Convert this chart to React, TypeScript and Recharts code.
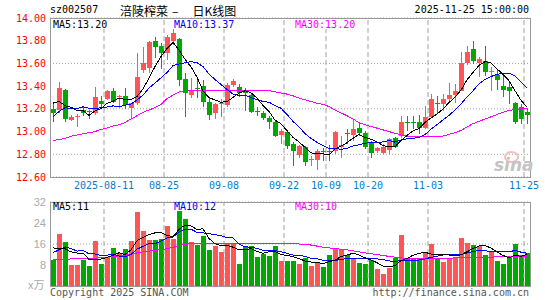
import React from "react";
import {
  ComposedChart,
  Bar,
  Line,
  XAxis,
  YAxis,
  CartesianGrid,
  ReferenceLine,
  ReferenceArea,
  Cell,
} from "recharts";

// trading days shown (80 sessions)
const dates = [
  "2025-07-29", "2025-07-30", "2025-07-31", "2025-08-01", "2025-08-04", "2025-08-05", "2025-08-06", "2025-08-07", "2025-08-08",
  "2025-08-11", "2025-08-12", "2025-08-13", "2025-08-14", "2025-08-15", "2025-08-18", "2025-08-19", "2025-08-20", "2025-08-21", "2025-08-22",
  "2025-08-25", "2025-08-26", "2025-08-27", "2025-08-28", "2025-08-29", "2025-09-01", "2025-09-02", "2025-09-03", "2025-09-04", "2025-09-05",
  "2025-09-08", "2025-09-09", "2025-09-10", "2025-09-11", "2025-09-12", "2025-09-15", "2025-09-16", "2025-09-17", "2025-09-18", "2025-09-19",
  "2025-09-22", "2025-09-23", "2025-09-24", "2025-09-25", "2025-09-26", "2025-09-29", "2025-09-30",
  "2025-10-09", "2025-10-10", "2025-10-13", "2025-10-14", "2025-10-15", "2025-10-16", "2025-10-17",
  "2025-10-20", "2025-10-21", "2025-10-22", "2025-10-23", "2025-10-24", "2025-10-27", "2025-10-28", "2025-10-29", "2025-10-30", "2025-10-31",
  "2025-11-03", "2025-11-04", "2025-11-05", "2025-11-06", "2025-11-07", "2025-11-10", "2025-11-11", "2025-11-12", "2025-11-13", "2025-11-14",
  "2025-11-17", "2025-11-18", "2025-11-19", "2025-11-20", "2025-11-21", "2025-11-24", "2025-11-25",
];

const opens = [
  13.2, 13.19, 13.37, 13.1, 13.125, 13.19, 13.18, 13.16, 13.265, 13.29,
  13.36, 13.31, 13.315, 13.21, 13.25, 13.545, 13.56, 13.795, 13.75, 13.695,
  13.8, 13.815, 13.465, 13.32, 13.385, 13.4, 13.26, 13.16, 13.25, 13.23,
  13.41, 13.39, 13.35, 13.325, 13.18, 13.16, 13.12, 13.085, 12.97, 13.0,
  12.89, 12.79, 12.865, 12.75, 12.75, 12.83, 12.83, 12.825, 12.86, 12.985,
  12.97, 13.03, 12.985, 12.905, 12.825, 12.815, 12.835, 12.94, 12.96, 13.08,
  13.08, 13.085, 13.03, 13.13, 13.255, 13.24, 13.29, 13.32, 13.36, 13.6,
  13.73, 13.605, 13.62, 13.53, 13.5, 13.4, 13.39, 13.255, 13.215, 13.175,
];
const highs = [
  13.25, 13.44, 13.375, 13.145, 13.155, 13.225, 13.19, 13.39, 13.31, 13.37,
  13.385, 13.325, 13.385, 13.255, 13.69, 13.745, 13.8, 13.83, 13.78, 13.85,
  13.9, 13.82, 13.52, 13.47, 13.47, 13.455, 13.295, 13.25, 13.29, 13.425,
  13.46, 13.42, 13.385, 13.34, 13.215, 13.18, 13.14, 13.105, 13.02, 13.006,
  12.905, 12.885, 12.875, 12.785, 12.845, 12.855, 12.88, 13.006, 12.96, 13.02,
  13.1, 13.085, 13.006, 12.92, 12.865, 12.89, 12.945, 12.955, 13.135, 13.135,
  13.135, 13.145, 13.225, 13.335, 13.31, 13.33, 13.43, 13.42, 13.7, 13.75,
  13.8, 13.66, 13.75, 13.565, 13.545, 13.49, 13.43, 13.26, 13.245, 13.21,
];
const lows = [
  13.08, 13.16, 13.08, 13.09, 13.04, 13.135, 13.11, 13.145, 13.21, 13.28,
  13.25, 13.21, 13.2, 13.12, 13.23, 13.515, 13.52, 13.645, 13.55, 13.63,
  13.76, 13.4, 13.13, 13.295, 13.295, 13.22, 13.105, 13.11, 13.13, 13.22,
  13.39, 13.3, 13.18, 13.165, 13.14, 13.105, 13.02, 12.955, 12.89, 12.845,
  12.7, 12.77, 12.7, 12.7, 12.66, 12.745, 12.745, 12.8, 12.77, 12.89,
  12.92, 12.96, 12.845, 12.765, 12.815, 12.805, 12.8, 12.855, 12.945, 13.005,
  13.02, 12.98, 13.02, 13.12, 13.165, 13.18, 13.25, 13.25, 13.355, 13.59,
  13.595, 13.48, 13.49, 13.355, 13.37, 13.3, 13.245, 13.07, 13.065, 13.065,
];
const closes = [
  13.16, 13.385, 13.11, 13.13, 13.135, 13.165, 13.175, 13.3, 13.24, 13.36,
  13.26, 13.315, 13.235, 13.25, 13.48, 13.6, 13.79, 13.745, 13.695, 13.83,
  13.87, 13.45, 13.34, 13.36, 13.38, 13.26, 13.15, 13.245, 13.255, 13.41,
  13.445, 13.34, 13.345, 13.17, 13.175, 13.12, 13.08, 12.96, 13.005, 12.875,
  12.825, 12.875, 12.73, 12.76, 12.83, 12.825, 12.82, 13.0, 12.885, 12.98,
  13.02, 12.99, 12.865, 12.81, 12.855, 12.865, 12.935, 12.865, 13.085, 13.075,
  13.075, 13.035, 13.13, 13.285, 13.25, 13.29, 13.325, 13.36, 13.6, 13.7,
  13.62, 13.635, 13.525, 13.535, 13.45, 13.37, 13.36, 13.085, 13.11, 13.145,
];
// closes of the nine sessions before the window (read back from the MA lines)
const priorCloses = [12.905, 12.79, 13.19, 13.14, 13.02, 13.305, 13.3, 13.195, 13.29];

const priceMa30 = [
  12.92, 12.93, 12.94, 12.96, 12.97, 12.98, 12.99, 13.0, 13.02, 13.03,
  13.05, 13.06, 13.08, 13.11, 13.14, 13.17, 13.19, 13.21, 13.24, 13.29,
  13.32, 13.35, 13.355, 13.36, 13.365, 13.365, 13.365, 13.365, 13.365, 13.365,
  13.365, 13.365, 13.365, 13.365, 13.365, 13.365, 13.36, 13.35, 13.34, 13.33,
  13.315, 13.295, 13.28, 13.265, 13.25, 13.24, 13.22, 13.19, 13.165, 13.14,
  13.11, 13.08, 13.06, 13.045, 13.03, 13.015, 13.0, 12.985, 12.97, 12.96,
  12.955, 12.955, 12.955, 12.955, 12.96, 12.96, 12.975, 12.99, 13.01, 13.04,
  13.07, 13.09, 13.11, 13.13, 13.15, 13.17, 13.185, 13.195, 13.2, 13.2,
];

// volume, x万手
const volumes = [
  10.0, 19.8, 16.8, 8.1, 8.1, 10.0, 7.7, 17.2, 8.3, 11.0,
  14.4, 12.4, 14.0, 17.2, 28.1, 20.9, 17.5, 17.5, 17.9, 22.8,
  17.8, 32.0, 25.4, 16.7, 15.8, 19.1, 13.7, 15.1, 12.9, 16.3,
  16.0, 8.3, 15.4, 15.2, 11.0, 12.2, 11.6, 15.4, 9.6, 9.5,
  9.5, 8.4, 10.6, 7.6, 8.9, 7.3, 11.8, 14.0, 14.0, 11.8,
  10.8, 8.7, 8.4, 9.9, 6.5, 4.6, 7.0, 10.8, 19.5, 10.6,
  10.6, 10.8, 12.8, 16.0, 10.6, 9.2, 10.6, 10.6, 18.3, 16.5,
  15.5, 15.2, 11.7, 13.4, 9.4, 8.4, 11.1, 16.0, 11.8, 12.6,
];
const priorVolumes = [8.8, 5.8, 14.1, 18.1, 7.7, 20.8, 17.3, 14.1, 10.3];

const volumeMa30 = [
  10.0, 10.1, 10.2, 10.3, 10.4, 10.4, 10.5, 10.6, 10.8, 11.0,
  11.2, 11.5, 11.8, 12.2, 12.6, 13.0, 13.3, 13.6, 13.9, 14.2,
  14.7, 15.3, 15.9, 16.2, 16.3, 16.3, 16.3, 16.3, 16.3, 16.3,
  16.3, 16.3, 16.3, 16.3, 16.3, 16.3, 16.3, 16.3, 16.3, 16.3,
  16.3, 16.0, 15.8, 15.6, 15.2, 14.8, 14.5, 14.3, 14.0, 13.8,
  13.4, 13.0, 12.6, 12.3, 12.0, 11.6, 11.3, 11.0, 10.7, 10.5,
  10.4, 10.4, 10.4, 10.5, 10.5, 10.6, 10.6, 10.7, 10.7, 10.8,
  10.8, 10.9, 10.9, 11.0, 11.1, 11.2, 11.2, 11.3, 11.3, 11.3,
];

const priceTicks = [12.6, 12.8, 13.0, 13.2, 13.4, 13.6, 13.8, 14.0];
const volumeTicks = [8, 16, 24, 32];
const labelDates = ["2025-08-11", "2025-08-25", "2025-09-08", "2025-09-22", "2025-10-09", "2025-10-20", "2025-11-03", "2025-11-25"];
const volumeGridDates = ["2025-08-11", "2025-08-25", "2025-09-08", "2025-09-22", "2025-10-20", "2025-11-03", "2025-11-25"];

const priceLegend = ["MA5:13.20", "MA10:13.37", "MA30:13.20"];
const volumeLegend = ["MA5:11", "MA10:12", "MA30:10"];

const RED = "#ff5555";
const GREEN = "#00a800";
const MONO = '"DejaVu Sans Mono", monospace';
const CJK = '"Noto Sans CJK SC", sans-serif';
const GRID = "#a0a0a0";

function movingAvg(values: number[], prior: number[], n: number) {
  const all = [...prior, ...values];
  return values.map((_, i) => {
    const end = prior.length + i;
    const win = all.slice(end - n + 1, end + 1);
    return win.reduce((a, b) => a + b, 0) / win.length;
  });
}

const ma5 = movingAvg(closes, priorCloses, 5);
const ma10 = movingAvg(closes, priorCloses, 10);
const vma5 = movingAvg(volumes, priorVolumes, 5);
const vma10 = movingAvg(volumes, priorVolumes, 10);

const data = dates.map((date, i) => ({
  date,
  open: opens[i],
  high: highs[i],
  low: lows[i],
  close: closes[i],
  range: [lows[i], highs[i]],
  ma5: ma5[i],
  ma10: ma10[i],
  ma30: priceMa30[i],
  volume: volumes[i],
  vma5: vma5[i],
  vma10: vma10[i],
  vma30: volumeMa30[i],
}));

const Candle = (props: any) => {
  const { x, y, width, height, payload } = props;
  const { open, close, high, low } = payload;
  const color = close >= open ? RED : GREEN;
  const ratio = height / (high - low);
  const yOf = (v: number) => y + (high - v) * ratio;
  const left = Math.floor(x);
  const w = Math.round(width);
  const top = Math.round(yOf(Math.max(open, close)));
  const bot = Math.round(yOf(Math.min(open, close)));
  const wTop = Math.round(y);
  const wBot = Math.round(y + height);
  return (
    <g shapeRendering="crispEdges">
      <rect x={left + Math.floor(w / 2)} y={wTop} width={1} height={Math.max(1, wBot - wTop)} fill={color} />
      <rect x={left} y={top} width={w} height={Math.max(1, bot - top)} fill={color} />
    </g>
  );
};

const VolBar = (props: any) => {
  const { x, y, width, height, fill } = props;
  const top = Math.round(y);
  const bot = Math.round(y + height);
  return <rect x={Math.floor(x)} y={top} width={Math.round(width)} height={bot - top} fill={fill} shapeRendering="crispEdges" />;
};

const legendStyle = (color: string, left: number, top: number): React.CSSProperties => ({
  position: "absolute",
  left,
  top,
  height: 8,
  lineHeight: "8px",
  fontFamily: MONO,
  fontSize: 10,
  color,
  background: "#fff",
  whiteSpace: "nowrap",
});

const legendColors = ["#000000", "#0000ff", "#ff00ff"];
const legendLefts = [53, 174, 295];

const maLine = (key: string, color: string) => (
  <Line
    dataKey={key}
    stroke={color}
    strokeWidth={1}
    dot={false}
    activeDot={false}
    shapeRendering="crispEdges"
    isAnimationActive={false}
  />
);

export default function App() {
  return (
    <div style={{ position: "absolute", left: 0, top: 0, width: 545, height: 300, background: "#fff", overflow: "hidden" }}>
      {/* header */}
      <div style={{ position: "absolute", left: 50, top: 4, fontFamily: MONO, fontSize: 10, color: "#000" }}>sz002507</div>
      <div style={{ position: "absolute", left: 120, top: 3, fontFamily: CJK, fontSize: 12, lineHeight: "15px", color: "#000", whiteSpace: "nowrap" }}>
        <span>涪陵榨菜</span>
        <span style={{ marginLeft: 4 }}>–</span>
        <span style={{ marginLeft: 14 }}>日K线图</span>
      </div>
      <div style={{ position: "absolute", right: 16, top: 4, fontFamily: MONO, fontSize: 10, color: "#000" }}>2025-11-25 15:00:00</div>

      {/* price panel */}
      <div style={{ position: "absolute", left: 0, top: 0 }}>
        <ComposedChart width={545} height={200} data={data} margin={{ top: 18, right: 15, left: 0, bottom: 0 }} barCategoryGap={0}>
          <CartesianGrid vertical={false} stroke={GRID} strokeDasharray="1 2" />
          <XAxis
            dataKey="date"
            ticks={labelDates}
            interval={0}
            height={23}
            axisLine={false}
            tickLine={false}
            tickSize={0}
            tickMargin={5}
            tickFormatter={(d: string, i: number) => (i === 0 ? d : d.slice(5))}
            tick={{ fill: "#0a7cc4", fontSize: 10, fontFamily: MONO, dx: -3 }}
          />
          <YAxis
            domain={[12.6, 14.0]}
            ticks={priceTicks}
            width={50}
            axisLine={false}
            tickLine={false}
            tickSize={0}
            tickMargin={4}
            tickFormatter={(v: number) => v.toFixed(2)}
            tick={{ fill: "#ff0000", fontSize: 10, fontFamily: MONO }}
          />
          {labelDates.map((d) => (
            <ReferenceLine key={d} x={d} position="start" stroke={GRID} strokeDasharray="5 3" />
          ))}
          <Bar dataKey="range" barSize={5} shape={<Candle />} isAnimationActive={false} />
          {maLine("ma30", "#ff00ff")}
          {maLine("ma10", "#0000ff")}
          {maLine("ma5", "#000000")}
          <ReferenceArea y1={12.6} y2={14.0} fill="none" stroke="#999" strokeWidth={1} shapeRendering="crispEdges" />
        </ComposedChart>
      </div>
      {priceLegend.map((t, i) => (
        <div key={t} style={legendStyle(legendColors[i], legendLefts[i], 21)}>{t}</div>
      ))}

      {/* sina watermark */}
      <div style={{ position: "absolute", left: 504, top: 151, width: 11, height: 8, borderRadius: "50%", border: "2px solid #f4c0c0" }} />
      <div style={{ position: "absolute", left: 494, top: 155, fontFamily: '"DejaVu Sans", sans-serif', fontStyle: "italic", fontWeight: 700, fontSize: 17, color: "#c4c4c4" }}>
        sina
      </div>

      {/* volume panel */}
      <div style={{ position: "absolute", left: 0, top: 190 }}>
        <ComposedChart width={545} height={110} data={data} margin={{ top: 12, right: 15, left: 0, bottom: 14 }} barCategoryGap={0}>
          <CartesianGrid vertical={false} stroke={GRID} strokeDasharray="1 2" />
          <XAxis dataKey="date" hide />
          <YAxis
            domain={[0, 32]}
            ticks={volumeTicks}
            allowDataOverflow
            width={50}
            axisLine={false}
            tickLine={false}
            tickSize={0}
            tickMargin={4}
            tick={{ fill: "#aaaaaa", fontSize: 11, fontFamily: '"Liberation Sans", sans-serif' }}
          />
          {volumeGridDates.map((d) => (
            <ReferenceLine key={d} x={d} position="start" stroke={GRID} strokeDasharray="5 3" />
          ))}
          <Bar dataKey="volume" barSize={5} shape={<VolBar />} isAnimationActive={false}>
            {data.map((d, i) => (
              <Cell key={i} fill={d.close >= d.open ? RED : GREEN} />
            ))}
          </Bar>
          {maLine("vma30", "#ff00ff")}
          {maLine("vma10", "#0000ff")}
          {maLine("vma5", "#000000")}
          <ReferenceArea y1={0} y2={32} fill="none" stroke="#999" strokeWidth={1} shapeRendering="crispEdges" />
        </ComposedChart>
      </div>
      {volumeLegend.map((t, i) => (
        <div key={t} style={legendStyle(legendColors[i], legendLefts[i], 203)}>{t}</div>
      ))}
      <div style={{ position: "absolute", left: 28, top: 278, fontFamily: CJK, fontSize: 11, lineHeight: "12px", color: "#aaa" }}>x万</div>

      {/* footer */}
      <div style={{ position: "absolute", left: 50, top: 287, fontFamily: MONO, fontSize: 10, lineHeight: "12px", color: "#555" }}>Copyright 2025 SINA.COM</div>
      <div style={{ position: "absolute", right: 16, top: 287, fontFamily: MONO, fontSize: 10, lineHeight: "12px", color: "#555" }}>
        http://finance.sina.com.cn
      </div>
    </div>
  );
}
